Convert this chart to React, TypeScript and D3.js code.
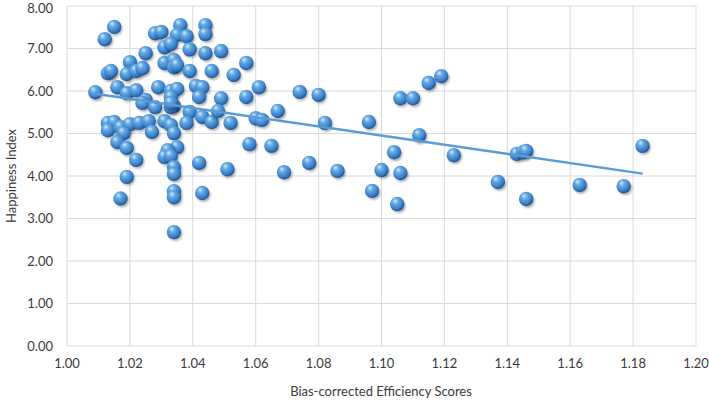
import React from "react";
import * as d3 from "d3";

// Bias-corrected efficiency scores (x) and happiness index (y)
const efficiency = [
  1.009, 1.012, 1.015, 1.013, 1.014, 1.016, 1.020, 1.019, 1.022, 1.024,
  1.025, 1.019, 1.022, 1.025, 1.028, 1.030, 1.036, 1.035, 1.038, 1.044,
  1.044, 1.031, 1.033, 1.039, 1.044, 1.049, 1.057, 1.031, 1.034, 1.034,
  1.035, 1.039, 1.046, 1.053, 1.061, 1.029, 1.033, 1.035, 1.041, 1.043,
  1.033, 1.042, 1.049, 1.057, 1.034, 1.013, 1.015, 1.013, 1.017, 1.020,
  1.023, 1.018, 1.026, 1.027, 1.016, 1.019, 1.022, 1.019, 1.017, 1.024,
  1.028, 1.033, 1.033, 1.039, 1.043, 1.046, 1.048, 1.052, 1.060, 1.031,
  1.033, 1.034, 1.038, 1.035, 1.032, 1.031, 1.033, 1.034, 1.034, 1.042,
  1.051, 1.058, 1.034, 1.034, 1.043, 1.034, 1.062, 1.065, 1.067, 1.069,
  1.074, 1.077, 1.080, 1.082, 1.086, 1.096, 1.097, 1.100, 1.104, 1.106,
  1.105, 1.106, 1.110, 1.112, 1.115, 1.119, 1.123, 1.137, 1.143, 1.145,
  1.146, 1.146, 1.163, 1.177, 1.183,
];
const happiness = [
  5.97, 7.22, 7.51, 6.42, 6.47, 6.09, 6.68, 6.40, 6.47, 6.54,
  6.89, 5.95, 6.02, 5.79, 7.36, 7.39, 7.55, 7.32, 7.29, 7.55,
  7.34, 7.03, 7.11, 6.98, 6.89, 6.94, 6.66, 6.66, 6.73, 6.56,
  6.61, 6.47, 6.47, 6.38, 6.09, 6.09, 6.00, 6.05, 6.12, 6.09,
  5.86, 5.86, 5.83, 5.86, 5.65, 5.25, 5.27, 5.08, 5.15, 5.22,
  5.25, 5.01, 5.29, 5.04, 4.80, 4.66, 4.38, 3.98, 3.47, 5.72,
  5.62, 5.62, 5.72, 5.51, 5.39, 5.27, 5.53, 5.25, 5.36, 5.29,
  5.20, 5.01, 5.25, 4.68, 4.61, 4.45, 4.47, 4.21, 4.05, 4.31,
  4.16, 4.75, 3.64, 3.50, 3.60, 2.68, 5.32, 4.71, 5.53, 4.09,
  5.98, 4.31, 5.91, 5.25, 4.12, 5.27, 3.65, 4.14, 4.56, 4.07,
  3.34, 5.83, 5.83, 4.96, 6.19, 6.35, 4.49, 3.86, 4.52, 4.56,
  4.59, 3.46, 3.79, 3.76, 4.71,
];

const xTicks = [1.0, 1.02, 1.04, 1.06, 1.08, 1.1, 1.12, 1.14, 1.16, 1.18, 1.2];
const yTicks = [0, 1, 2, 3, 4, 5, 6, 7, 8];

const W = 709;
const H = 402;
const FONT = "Lato, 'Open Sans', sans-serif";

export default function App() {
  const x = d3.scaleLinear().domain([1.0, 1.2]).range([67, 696]);
  const y = d3.scaleLinear().domain([0, 8]).range([346, 6]);

  const points = efficiency.map((e, i) => ({ x: e, y: happiness[i] }));

  // linear trendline (least squares), as Excel would draw it
  const mx = d3.mean(efficiency)!;
  const my = d3.mean(happiness)!;
  let sxy = 0;
  let sxx = 0;
  points.forEach((p) => {
    sxy += (p.x - mx) * (p.y - my);
    sxx += (p.x - mx) * (p.x - mx);
  });
  const slope = sxy / sxx;
  const icpt = my - slope * mx;
  const [x0, x1] = d3.extent(efficiency) as [number, number];
  const trend = d3
    .line<number>()
    .x((d) => x(d))
    .y((d) => y(icpt + slope * d));

  return (
    <svg
      width={W}
      height={H}
      style={{ position: "absolute", left: 0, top: 0, background: "#fff" }}
    >
      <defs>
        <radialGradient id="ball" cx="40%" cy="35%" r="65%" fx="35%" fy="28%">
          <stop offset="0%" stopColor="#d6ecff" />
          <stop offset="30%" stopColor="#68ace6" />
          <stop offset="75%" stopColor="#3a7fc8" />
          <stop offset="100%" stopColor="#1d5595" />
        </radialGradient>
        <filter id="shadow" x="-50%" y="-50%" width="200%" height="200%">
          <feGaussianBlur stdDeviation="1.2" />
        </filter>
      </defs>

      {/* grid */}
      <g stroke="#d9d9d9" strokeWidth={1}>
        {yTicks.map((t) => (
          <line key={"gy" + t} x1={67} x2={696} y1={y(t)} y2={y(t)} />
        ))}
        {xTicks.map((t) => (
          <line key={"gx" + t} x1={x(t)} x2={x(t)} y1={6} y2={346} />
        ))}
      </g>

      {/* tick labels */}
      <g fontFamily={FONT} fontSize={13} fill="#3a3a3a">
        {yTicks.map((t) => (
          <text
            key={"ty" + t}
            x={53}
            y={Math.max(y(t), 8)}
            dy="0.35em"
            textAnchor="end"
          >
            {t.toFixed(2)}
          </text>
        ))}
        {xTicks.map((t) => (
          <text key={"tx" + t} x={x(t)} y={368} textAnchor="middle">
            {t.toFixed(2)}
          </text>
        ))}
        <text x={381} y={396} textAnchor="middle">
          Bias-corrected Efficiency Scores
        </text>
        <text
          transform={`translate(16, ${y(4)}) rotate(-90)`}
          textAnchor="middle"
        >
          Happiness Index
        </text>
      </g>

      {/* points */}
      <g>
        {points.map((p, i) => (
          <g key={i}>
            <circle
              cx={x(p.x) + 1.5}
              cy={y(p.y) + 2}
              r={7}
              fill="#000"
              opacity={0.3}
              filter="url(#shadow)"
            />
            <circle cx={x(p.x)} cy={y(p.y)} r={7.2} fill="url(#ball)" />
          </g>
        ))}
      </g>

      {/* trendline */}
      <path
        d={trend([x0, x1]) ?? ""}
        fill="none"
        stroke="#5b9bd5"
        strokeWidth={2.5}
      />
    </svg>
  );
}
